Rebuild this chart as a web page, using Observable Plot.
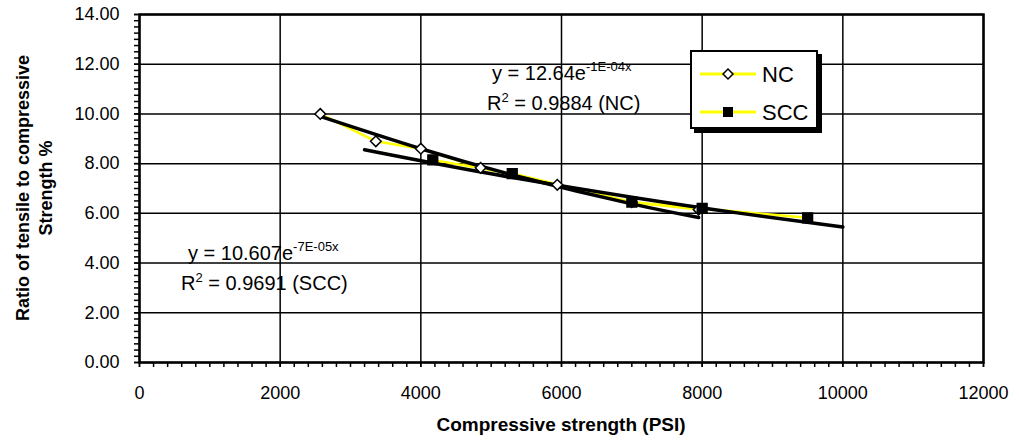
<!DOCTYPE html>
<html>
<head>
<meta charset="utf-8">
<script src="https://cdn.jsdelivr.net/npm/d3@7"></script>
<script src="https://cdn.jsdelivr.net/npm/@observablehq/plot@0.6"></script>
<style>
  html, body { margin: 0; padding: 0; background: #fff; }
  #wrap { position: relative; width: 1019px; height: 447px; font-family: "Liberation Sans", Arial, sans-serif; color: #000; }
  .ann { position: absolute; font-size: 20px; line-height: 22px; white-space: nowrap; }
  .ann sup { font-size: 13px; vertical-align: 0; position: relative; top: -9px; }
  .ann .s2 { font-size: 13px; position: relative; top: -8px; }
  #ytitle { position: absolute; left: 35px; top: 188px; width: 400px; transform: translate(-50%, -50%) rotate(-90deg); text-align: center; font-weight: bold; font-size: 18px; line-height: 23px; }
  #xtitle { position: absolute; left: 561px; top: 425px; transform: translate(-50%, -50%); font-weight: bold; font-size: 19px; white-space: nowrap; }
  #legend { position: absolute; left: 690px; top: 50px; width: 128px; height: 79px; box-sizing: border-box; border: 2px solid #000; background: #fff; box-shadow: 4px 4px 0 #000; }
</style>
</head>
<body>
<div id="wrap"></div>
<script>
// NC series (diamonds)
const ncX = [2570, 3360, 4000, 4850, 5940, 7000, 7950];
const ncY = [10.0, 8.9, 8.6, 7.83, 7.15, 6.45, 6.15];
// SCC series (squares)
const sccX = [4170, 5300, 7000, 8000, 9500];
const sccY = [8.15, 7.6, 6.45, 6.2, 5.82];
// Trendlines
const ncTrendX = [2570, 4000, 5500, 7000, 7950];
const ncTrendY = [9.9, 8.6, 7.4, 6.38, 5.83];
const sccTrendX = [3200, 5000, 7000, 8500, 10000];
const sccTrendY = [8.56, 7.59, 6.65, 6.02, 5.45];
// Ticks
const xTicks = [0, 2000, 4000, 6000, 8000, 10000, 12000];
const yTicks = [0, 2, 4, 6, 8, 10, 12, 14];
const xMinor = d3.range(0, 12001, 200);
const yMinor = d3.range(0, 14.001, 0.25);

const nc = ncX.map((x, i) => ({x, y: ncY[i]}));
const scc = sccX.map((x, i) => ({x, y: sccY[i]}));
const ncTrend = ncTrendX.map((x, i) => ({x, y: ncTrendY[i]}));
const sccTrend = sccTrendX.map((x, i) => ({x, y: sccTrendY[i]}));

const chart = Plot.plot({
  width: 1019,
  height: 447,
  marginLeft: 139,
  marginRight: 36,
  marginTop: 14,
  marginBottom: 85,
  style: { fontFamily: "Liberation Sans, Arial, sans-serif", fontSize: "18px", color: "#000", background: "#fff", overflow: "visible" },
  x: { domain: [0, 12000] },
  y: { domain: [0, 14] },
  marks: [
    Plot.gridX(xTicks, { stroke: "#000", strokeOpacity: 1, strokeWidth: 1.5 }),
    Plot.gridY(yTicks, { stroke: "#000", strokeOpacity: 1, strokeWidth: 1.5 }),
    Plot.axisX(xMinor, { tickSize: 5, text: null, label: null, strokeWidth: 1.5 }),
    Plot.axisY(yMinor, { tickSize: 5, text: null, label: null, strokeWidth: 1.5 }),
    Plot.axisX(xTicks, { tickSize: 5, tickPadding: 19, tickFormat: d => String(d), label: null, fontSize: 18, strokeWidth: 1.5 }),
    Plot.axisY(yTicks, { tickSize: 5, tickPadding: 15, tickFormat: d3.format(".2f"), label: null, fontSize: 18, strokeWidth: 1.5 }),
    Plot.frame({ stroke: "#000", strokeWidth: 2.5 }),
    Plot.line(nc, { x: "x", y: "y", stroke: "#ffff00", strokeWidth: 2.5 }),
    Plot.line(scc, { x: "x", y: "y", stroke: "#ffff00", strokeWidth: 2.5 }),
    Plot.line(ncTrend, { x: "x", y: "y", stroke: "#000", strokeWidth: 3.5, curve: "natural" }),
    Plot.line(sccTrend, { x: "x", y: "y", stroke: "#000", strokeWidth: 3.5, curve: "natural" }),
    Plot.dot(nc, { x: "x", y: "y", symbol: "diamond2", r: 4.8, fill: "#fff", stroke: "#000", strokeWidth: 1.5 }),
    Plot.dot(scc, { x: "x", y: "y", symbol: "square", r: 5.5, fill: "#000", stroke: "#000" })
  ]
});

const wrap = document.getElementById("wrap");
wrap.appendChild(chart);

wrap.insertAdjacentHTML("beforeend", `
  <div class="ann" style="left:492px; top:62px;">y = 12.64e<sup>-1E-04x</sup></div>
  <div class="ann" style="left:487px; top:92px;">R<span class="s2">2</span> = 0.9884 (NC)</div>
  <div class="ann" style="left:188px; top:242px;">y = 10.607e<sup>-7E-05x</sup></div>
  <div class="ann" style="left:181px; top:272px;">R<span class="s2">2</span> = 0.9691 (SCC)</div>
  <div id="ytitle">Ratio of tensile to compressive<br>Strength %</div>
  <div id="xtitle">Compressive strength (PSI)</div>
  <div id="legend">
    <svg width="124" height="75" style="position:absolute; left:0; top:0;">
      <line x1="8" x2="64" y1="22" y2="22" stroke="#ffff00" stroke-width="3"/>
      <path d="M36,17 L41,22 L36,27 L31,22 Z" fill="#fff" stroke="#000" stroke-width="1.5"/>
      <text x="70" y="22" dy="0.35em" font-size="22" font-family="Liberation Sans, Arial, sans-serif">NC</text>
      <line x1="8" x2="64" y1="60" y2="60" stroke="#ffff00" stroke-width="3"/>
      <rect x="31" y="55" width="10" height="10" fill="#000"/>
      <text x="70" y="60" dy="0.35em" font-size="22" font-family="Liberation Sans, Arial, sans-serif">SCC</text>
    </svg>
  </div>
`);
</script>
</body>
</html>
